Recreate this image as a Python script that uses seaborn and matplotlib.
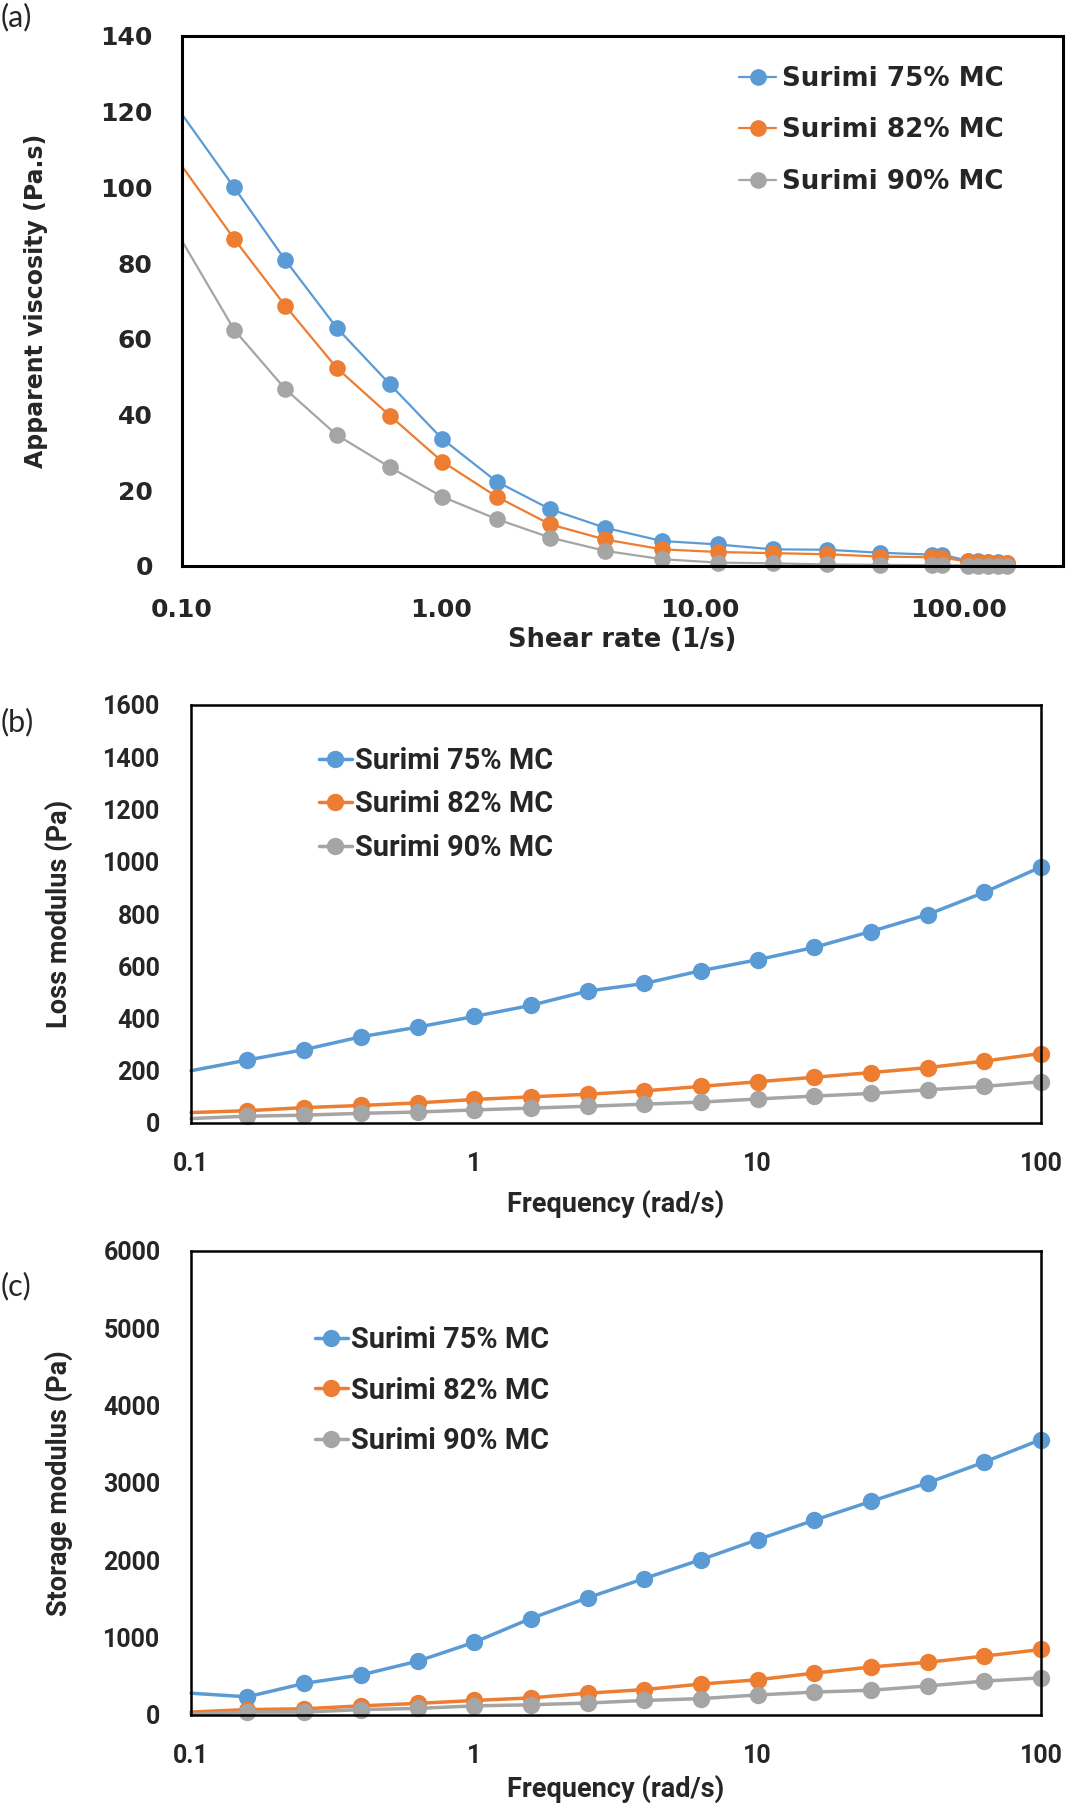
import numpy as np
import pandas as pd
import matplotlib
matplotlib.use("Agg")
import matplotlib.pyplot as plt
import seaborn as sns

# ---------------- data ----------------
series_names = ["Surimi 75% MC", "Surimi 82% MC", "Surimi 90% MC"]
colors = ["#5B9BD5", "#ED7D31", "#A5A5A5"]

# (a) apparent viscosity vs shear rate
shear_rate = [0.1, 0.159, 0.250, 0.396, 0.635, 1.01, 1.64, 2.64, 4.30, 7.13,
              11.7, 19.1, 30.9, 49.5, 78.7, 86.0, 108, 118, 129, 142, 153]
visc_75 = [119.3, 100.0, 80.9, 62.9, 48.0, 33.6, 22.3, 15.0, 10.1, 6.6,
           5.7, 4.4, 4.3, 3.5, 3.0, 3.0, 1.4, 1.2, 1.1, 1.0, 0.9]
visc_82 = [105.6, 86.4, 68.8, 52.3, 39.7, 27.6, 18.3, 11.0, 7.0, 4.4,
           3.7, 3.4, 3.1, 2.5, 2.3, 2.2, 1.2, 1.1, 1.0, 0.9, 0.8]
visc_90 = [85.9, 62.4, 46.8, 34.6, 26.1, 18.3, 12.4, 7.5, 4.0, 1.8,
           0.9, 0.7, 0.4, 0.3, 0.2, 0.2, 0.1, 0.1, 0.1, 0.1, 0.1]

# (b), (c) frequency sweep
frequency = [0.1, 0.158, 0.251, 0.398, 0.631, 1.0, 1.58, 2.51, 3.98, 6.31,
             10.0, 15.8, 25.1, 39.8, 63.1, 100.0]
loss_75 = [200, 241, 281, 330, 367, 408, 450, 505, 534, 583, 625, 672, 733, 798, 883, 980]
loss_82 = [40, 47, 59, 67, 77, 90, 100, 110, 123, 140, 158, 175, 193, 212, 237, 266]
loss_90 = [17, 26, 30, 37, 42, 50, 57, 64, 72, 80, 92, 103, 113, 127, 140, 158]

stor_75 = [282, 235, 409, 518, 696, 941, 1247, 1515, 1765, 2009, 2268, 2518, 2762, 3002, 3271, 3562]
stor_82 = [38, 70, 80, 118, 150, 188, 221, 282, 329, 400, 456, 541, 621, 682, 762, 847]
stor_90 = [10, 38, 38, 70, 85, 118, 132, 155, 188, 212, 259, 296, 320, 376, 438, 480]

a_xticks = [0.1, 1, 10, 100]
a_xticklabels = ["0.10", "1.00", "10.00", "100.00"]
a_yticks = [0, 20, 40, 60, 80, 100, 120, 140]
f_xticks = [0.1, 1, 10, 100]
f_xticklabels = ["0.1", "1", "10", "100"]
b_yticks = [0, 200, 400, 600, 800, 1000, 1200, 1400, 1600]
c_yticks = [0, 1000, 2000, 3000, 4000, 5000, 6000]

# ---------------- style ----------------
sns.set_theme(style="white")
plt.rcParams["font.family"] = ["DejaVu Sans"]

W, H = 1080, 1812
fig = plt.figure(figsize=(W / 100, H / 100), dpi=100)
fig.patch.set_facecolor("white")


def rect(l, r, t, b):
    return [l / W, 1 - b / H, (r - l) / W, (b - t) / H]


def draw(ax, x, ys, lw, ms):
    for name, y, c in zip(series_names, ys, colors):
        df = pd.DataFrame({"x": x, "y": y})
        sns.lineplot(data=df, x="x", y="y", ax=ax, color=c, linewidth=lw,
                     marker="o", markersize=ms, markeredgewidth=0,
                     markevery=list(range(1, len(x))), clip_on=False,
                     label=name, sort=False)


def style_axes(ax, spine_w):
    for s in ax.spines.values():
        s.set_visible(True)
        s.set_color("black")
        s.set_linewidth(spine_w)
    ax.set_facecolor("white")
    ax.grid(False)
    ax.minorticks_off()


# ---- panel (a) ----
fa = "DejaVu Sans"
ax_a = fig.add_axes(rect(182, 1063, 36, 566))
draw(ax_a, shear_rate, [visc_75, visc_82, visc_90], lw=1.6, ms=12)
ax_a.set_xscale("log")
ax_a.set_xlim(0.1, 252)
ax_a.set_ylim(0, 140)
style_axes(ax_a, 2.2)
ax_a.set_xticks(a_xticks)
ax_a.set_xticklabels(a_xticklabels, fontsize=18, fontweight="bold", family=fa)
ax_a.set_yticks(a_yticks)
ax_a.set_yticklabels([str(v) for v in a_yticks], fontsize=18, fontweight="bold", family=fa)
ax_a.minorticks_off()
ax_a.tick_params(axis="both", length=0)
ax_a.tick_params(axis="y", pad=21)
ax_a.tick_params(axis="x", pad=23)
ax_a.set_xlabel("Shear rate (1/s)", fontsize=18.5, fontweight="bold", family=fa, labelpad=4)
ax_a.set_ylabel("Apparent viscosity (Pa.s)", fontsize=17, fontweight="bold", family=fa, labelpad=38)
ax_a.legend(loc="upper left", bbox_to_anchor=(739 / W, 1 - 66 / H),
            bbox_transform=fig.transFigure, frameon=False, borderpad=0,
            borderaxespad=0, handlelength=1.42, handletextpad=0.23,
            labelspacing=0.97, prop={"family": fa, "weight": "bold", "size": 18.8})

# ---- panels (b) and (c) ----
fb = "Roboto"
ax_b = fig.add_axes(rect(191, 1041, 705, 1123))
draw(ax_b, frequency, [loss_75, loss_82, loss_90], lw=2.5, ms=12.5)
ax_c = fig.add_axes(rect(191, 1041, 1251, 1715))
draw(ax_c, frequency, [stor_75, stor_82, stor_90], lw=2.5, ms=12.5)

for ax, yt, ylab, lim in [(ax_b, b_yticks, "Loss modulus (Pa)", 1600),
                          (ax_c, c_yticks, "Storage modulus (Pa)", 6000)]:
    ax.set_xscale("log")
    ax.set_xlim(0.1, 100)
    ax.set_ylim(0, lim)
    style_axes(ax, 1.8)
    ax.set_xticks(f_xticks)
    ax.set_xticklabels(f_xticklabels, fontsize=18, fontweight="bold", family=fb)
    ax.set_yticks(yt)
    ax.set_yticklabels([str(v) for v in yt], fontsize=18, fontweight="bold", family=fb)
    ax.minorticks_off()
    ax.tick_params(axis="both", length=0)
    ax.tick_params(axis="y", pad=22)
    ax.set_ylabel(ylab, fontsize=19.5, fontweight="bold", family=fb, labelpad=22)

ax_b.tick_params(axis="x", pad=21)
ax_b.set_xlabel("Frequency (rad/s)", fontsize=19.5, fontweight="bold", family=fb, labelpad=10)
ax_c.tick_params(axis="x", pad=21)
ax_c.set_xlabel("Frequency (rad/s)", fontsize=19.5, fontweight="bold", family=fb, labelpad=5)

ax_b.legend(loc="upper left", bbox_to_anchor=(319 / W, 1 - 747 / H),
            bbox_transform=fig.transFigure, frameon=False, borderpad=0,
            borderaxespad=0, handlelength=1.14, handletextpad=0.1,
            labelspacing=0.53, prop={"family": fb, "weight": "bold", "size": 20.8})
ax_c.legend(loc="upper left", bbox_to_anchor=(315 / W, 1 - 1326 / H),
            bbox_transform=fig.transFigure, frameon=False, borderpad=0,
            borderaxespad=0, handlelength=1.14, handletextpad=0.1,
            labelspacing=0.78, prop={"family": fb, "weight": "bold", "size": 20.8})

# panel letters
for lab, yy in [("(a)", 17), ("(b)", 722), ("(c)", 1286)]:
    fig.text(1 / W, 1 - yy / H, lab, fontsize=22, family="Lato", ha="left", va="center")

fig.savefig("out.png", dpi=100, facecolor="white")
